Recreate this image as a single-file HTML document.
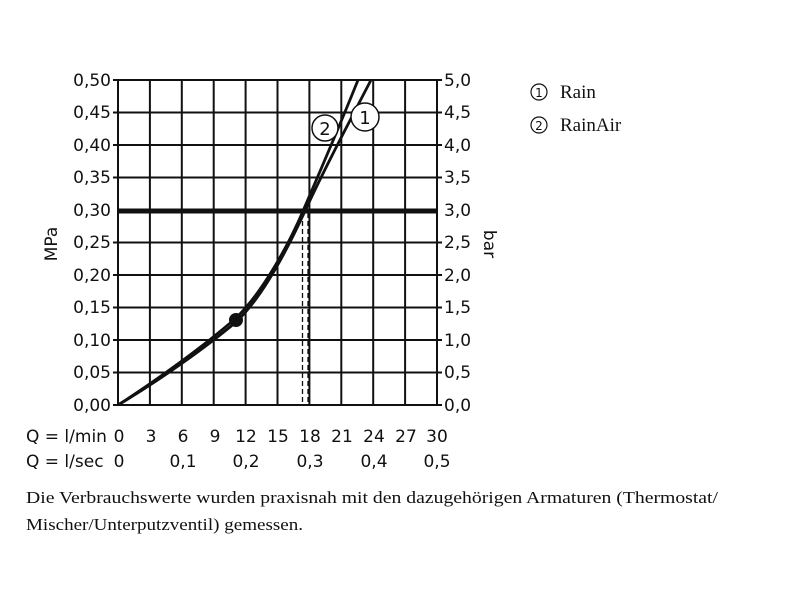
<!DOCTYPE html>
<html><head><meta charset="utf-8"><style>
body{margin:0;background:#fff;width:800px;height:600px;overflow:hidden}
svg text{font-family:"DejaVu Sans","Liberation Sans",sans-serif;fill:#111}
</style></head><body>
<svg width="800" height="600" viewBox="0 0 800 600">
<g stroke="#111" stroke-width="2" fill="none">
<path d="M118,80V405 M149.9,80V405 M181.8,80V405 M213.7,80V405 M245.6,80V405 M277.5,80V405 M309.4,80V405 M341.3,80V405 M373.2,80V405 M405.1,80V405 M437,80V405"/>
<path d="M113,80H442 M113,112.5H442 M113,145H442 M113,177.5H442 M113,242.5H442 M113,275H442 M113,307.5H442 M113,340H442 M113,372.5H442 M113,405H442"/>
</g>
<path d="M118,211H437" stroke="#111" stroke-width="5"/>
<g stroke="#111" stroke-width="1.3" stroke-dasharray="5,3">
<path d="M302.5,213V405 M308,213V405"/>
</g>
<g stroke="#111" stroke-width="2.8" fill="none">
<path d="M118,405 C160,380 205,348 236,322 C262,298 288,248 305,211 C322,174 345,130 371,80"/>
<path d="M118,405 C160,378 205,345 236,318 C262,293 288,246 303,211 C318,176 338,130 358,80"/>
</g>
<circle cx="236" cy="320" r="7" fill="#111"/>
<circle cx="365" cy="117" r="14" fill="#fff" stroke="#111" stroke-width="1.5"/>
<text x="365" y="124" font-size="18" text-anchor="middle">1</text>
<circle cx="325" cy="128" r="13" fill="#fff" stroke="#111" stroke-width="1.5"/>
<text x="325" y="135" font-size="18" text-anchor="middle">2</text>
<g font-size="17" text-anchor="end">
<text x="111" y="86">0,50</text><text x="111" y="118">0,45</text><text x="111" y="151">0,40</text><text x="111" y="183">0,35</text><text x="111" y="216">0,30</text><text x="111" y="248">0,25</text><text x="111" y="281">0,20</text><text x="111" y="313">0,15</text><text x="111" y="346">0,10</text><text x="111" y="378">0,05</text><text x="111" y="411">0,00</text>
</g>
<g font-size="17">
<text x="444" y="86">5,0</text><text x="444" y="118">4,5</text><text x="444" y="151">4,0</text><text x="444" y="183">3,5</text><text x="444" y="216">3,0</text><text x="444" y="248">2,5</text><text x="444" y="281">2,0</text><text x="444" y="313">1,5</text><text x="444" y="346">1,0</text><text x="444" y="378">0,5</text><text x="444" y="411">0,0</text>
</g>
<text transform="translate(57,244) rotate(-90)" font-size="17" text-anchor="middle">MPa</text>
<text transform="translate(484,244) rotate(90)" font-size="17" text-anchor="middle">bar</text>
<g font-size="17" text-anchor="middle">
<text x="26" y="442" text-anchor="start">Q = l/min</text>
<text x="119" y="442">0</text><text x="151" y="442">3</text><text x="183" y="442">6</text><text x="215" y="442">9</text><text x="246" y="442">12</text><text x="278" y="442">15</text><text x="310" y="442">18</text><text x="342" y="442">21</text><text x="374" y="442">24</text><text x="406" y="442">27</text><text x="437" y="442">30</text>
<text x="26" y="467" text-anchor="start">Q = l/sec</text>
<text x="119" y="467">0</text><text x="183" y="467">0,1</text><text x="246" y="467">0,2</text><text x="310" y="467">0,3</text><text x="374" y="467">0,4</text><text x="437" y="467">0,5</text>
</g>
<circle cx="539" cy="92" r="8" fill="none" stroke="#111" stroke-width="1.2"/><text x="539" y="97" font-size="12" text-anchor="middle">1</text>
<text x="560" y="98" font-size="19" style="font-family:'Liberation Serif',serif">Rain</text>
<circle cx="539" cy="125" r="8" fill="none" stroke="#111" stroke-width="1.2"/><text x="539" y="130" font-size="12" text-anchor="middle">2</text>
<text x="560" y="131" font-size="19" style="font-family:'Liberation Serif',serif">RainAir</text>
<text x="26" y="503" font-size="17" textLength="692" lengthAdjust="spacingAndGlyphs" style="font-family:'Liberation Serif',serif">Die Verbrauchswerte wurden praxisnah mit den dazugehörigen Armaturen (Thermostat/</text>
<text x="26" y="530" font-size="17" textLength="277" lengthAdjust="spacingAndGlyphs" style="font-family:'Liberation Serif',serif">Mischer/Unterputzventil) gemessen.</text>
</svg>
</body></html>
